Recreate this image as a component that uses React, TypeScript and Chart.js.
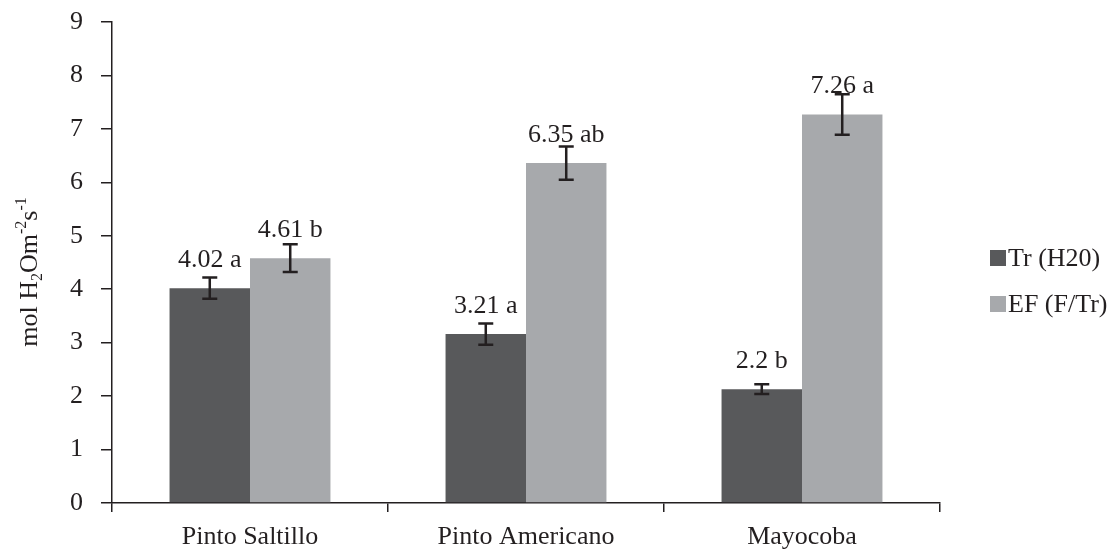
import React, { useEffect, useRef } from "react";
import { Chart, registerables } from "chart.js";

Chart.register(...registerables);

const categories = ["Pinto Saltillo", "Pinto Americano", "Mayocoba"];
const seriesNames = ["Tr (H20)", "EF (F/Tr)"];
const trValues = [4.02, 3.16, 2.13];
const efValues = [4.58, 6.36, 7.27];
const trErrors = [0.2, 0.2, 0.09];
const efErrors = [0.26, 0.31, 0.38];
const trLabels = ["4.02 a", "3.21 a", "2.2 b"];
const efLabels = ["4.61 b", "6.35 ab", "7.26 a"];
const yTicks = [0, 1, 2, 3, 4, 5, 6, 7, 8, 9];

const DARK = "#58595b";
const LIGHT = "#a7a9ac";
const INK = "#231f20";
const FONT = "'Liberation Serif', 'Times New Roman', serif";

const errorsBySeries = [trErrors, efErrors];
const labelsBySeries = [trLabels, efLabels];

const annotatePlugin = {
  id: "annotate",
  afterDatasetsDraw(chart: any) {
    const ctx = chart.ctx;
    const y = chart.scales.y;
    ctx.save();
    chart.data.datasets.forEach((ds: any, di: number) => {
      const meta = chart.getDatasetMeta(di);
      meta.data.forEach((bar: any, i: number) => {
        const v = ds.data[i];
        const e = errorsBySeries[di][i];
        const top = y.getPixelForValue(v + e);
        const bot = y.getPixelForValue(v - e);
        ctx.strokeStyle = INK;
        ctx.lineWidth = 2.5;
        ctx.beginPath();
        ctx.moveTo(bar.x, top);
        ctx.lineTo(bar.x, bot);
        ctx.moveTo(bar.x - 7.5, top);
        ctx.lineTo(bar.x + 7.5, top);
        ctx.moveTo(bar.x - 7.5, bot);
        ctx.lineTo(bar.x + 7.5, bot);
        ctx.stroke();
        ctx.fillStyle = INK;
        ctx.font = `26px ${FONT}`;
        ctx.textAlign = "center";
        ctx.textBaseline = "alphabetic";
        ctx.fillText(labelsBySeries[di][i], bar.x, bar.y - 21);
      });
    });

    // legend
    const lx = 990;
    const rows = [258, 304];
    chart.data.datasets.forEach((ds: any, di: number) => {
      const cy = rows[di];
      ctx.fillStyle = ds.backgroundColor;
      ctx.fillRect(lx, cy - 8, 16, 16);
      ctx.fillStyle = INK;
      ctx.font = `26px ${FONT}`;
      ctx.textAlign = "left";
      ctx.textBaseline = "middle";
      ctx.fillText(ds.label, lx + 18, cy + 1);
    });

    // y axis title with sub/superscripts
    const parts: [string, string][] = [
      ["mol H", "n"],
      ["2", "sub"],
      ["Om", "n"],
      ["-2", "sup"],
      ["s", "n"],
      ["-1", "sup"],
    ];
    const fontFor = (k: string) => (k === "n" ? `26px ${FONT}` : `16px ${FONT}`);
    let total = 0;
    parts.forEach(([t, k]) => {
      ctx.font = fontFor(k);
      total += ctx.measureText(t).width;
    });
    ctx.translate(37, 272);
    ctx.rotate(-Math.PI / 2);
    ctx.textAlign = "left";
    ctx.textBaseline = "alphabetic";
    ctx.fillStyle = INK;
    let x = -total / 2;
    parts.forEach(([t, k]) => {
      ctx.font = fontFor(k);
      const dy = k === "sub" ? 5 : k === "sup" ? -11 : 0;
      ctx.fillText(t, x, dy);
      x += ctx.measureText(t).width;
    });
    ctx.restore();
  },
};

export default function App() {
  const ref = useRef<HTMLCanvasElement | null>(null);
  useEffect(() => {
    document.body.style.margin = "0";
    if (!ref.current) return;
    const chart = new Chart(ref.current, {
      type: "bar",
      data: {
        labels: categories,
        datasets: [
          { label: seriesNames[0], data: trValues, backgroundColor: DARK, borderWidth: 0 },
          { label: seriesNames[1], data: efValues, backgroundColor: LIGHT, borderWidth: 0 },
        ],
      },
      options: {
        animation: false,
        responsive: false,
        devicePixelRatio: 1,
        layout: { padding: { top: 22, right: 174, left: 0, bottom: 0 } },
        datasets: { bar: { categoryPercentage: 0.583, barPercentage: 1 } },
        plugins: { legend: { display: false }, tooltip: { enabled: false } },
        scales: {
          x: {
            grid: {
              offset: true,
              drawOnChartArea: false,
              drawTicks: true,
              tickLength: 9,
              color: INK,
              lineWidth: 1.5,
            },
            border: { color: INK, width: 1.5 },
            ticks: { color: INK, font: { family: FONT, size: 26 }, padding: 10, maxRotation: 0 },
            afterFit: (s: any) => {
              s.height = 47;
              s.paddingLeft = 0;
              s.paddingRight = 0;
            },
          },
          y: {
            min: 0,
            max: 9,
            afterBuildTicks: (s: any) => {
              s.ticks = yTicks.map((v) => ({ value: v }));
            },
            grid: {
              drawOnChartArea: false,
              drawTicks: true,
              tickLength: 11,
              color: INK,
              lineWidth: 1.5,
            },
            border: { color: INK, width: 1.5 },
            ticks: { color: INK, font: { family: FONT, size: 26 }, padding: 18 },
            afterFit: (s: any) => {
              s.width = 112;
              s.paddingTop = 0;
              s.paddingBottom = 0;
            },
          },
        },
      },
      plugins: [annotatePlugin],
    });
    return () => chart.destroy();
  }, []);
  return (
    <div style={{ width: 1114, height: 550, background: "#fff" }}>
      <canvas ref={ref} width={1114} height={550} style={{ display: "block" }} />
    </div>
  );
}
